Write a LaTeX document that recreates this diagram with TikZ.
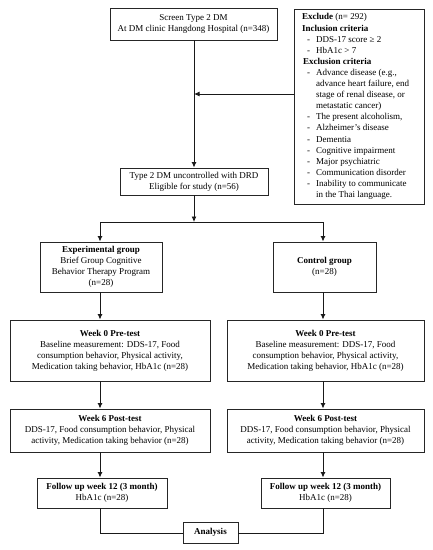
\documentclass[tikz,border=0pt]{standalone}
\usepackage{fontspec}
\setmainfont{Liberation Serif}
\usetikzlibrary{arrows.meta}
\begin{document}
\begin{tikzpicture}[x=1pt,y=-1pt,
  box/.style={draw=black!85,line width=0.9pt,inner sep=0pt,align=center,font=\fontsize{9}{10.9}\selectfont},
  arr/.style={line width=0.9pt,draw=black!90,-{Latex[length=5.5pt,width=5pt]}},
  ln/.style={line width=0.9pt,draw=black!90}]
\useasboundingbox (0,0) rectangle (433,550);
\node[box,minimum width=167pt,minimum height=32pt] (screen) at (193.5,24) {Screen Type 2 DM\\At DM clinic Hangdong Hospital (n=348)};
\node[box,minimum width=130pt,minimum height=195pt,align=left,anchor=north west] (excl) at (294,9) {};
\node[anchor=north west,inner sep=0pt,align=left,font=\fontsize{9}{11.1}\selectfont] (excltext) at (302,13.5) {%
\textbf{Exclude} (n= 292)\\
\textbf{Inclusion criteria}\\
\hspace*{5pt}-\hspace{6pt}DDS-17 score ≥ 2\\
\hspace*{5pt}-\hspace{6pt}HbA1c > 7\\
\hspace*{1pt}\textbf{Exclusion criteria}\\
\hspace*{5pt}-\hspace{6pt}Advance disease (e.g.,\\
\hspace*{14pt}advance heart failure, end\\
\hspace*{14pt}stage of renal disease, or\\
\hspace*{14pt}metastatic cancer)\\
\hspace*{5pt}-\hspace{6pt}The present alcoholism,\\
\hspace*{5pt}-\hspace{6pt}Alzheimer's disease\\
\hspace*{5pt}-\hspace{6pt}Dementia\\
\hspace*{5pt}-\hspace{6pt}Cognitive impairment\\
\hspace*{5pt}-\hspace{6pt}Major psychiatric\\
\hspace*{5pt}-\hspace{6pt}Communication disorder\\
\hspace*{5pt}-\hspace{6pt}Inability to communicate\\
\hspace*{14pt}in the Thai language.};
\node[box,minimum width=148pt,minimum height=27pt] (elig) at (194,181.5) {Type 2 DM uncontrolled with DRD\\Eligible for study (n=56)};
\node[box,minimum width=122pt,minimum height=50pt] (exp) at (101,267) {\textbf{Experimental group}\\Brief Group Cognitive\\Behavior Therapy Program\\(n=28)};
\node[box,minimum width=103pt,minimum height=50pt] (ctrl) at (324.5,267) {\textbf{Control group}\\(n=28)};
\node[box,minimum width=200pt,minimum height=61pt] (w0l) at (110,350.5) {\textbf{Week 0 Pre-test}\\Baseline measurement: DDS-17, Food\\consumption behavior, Physical activity,\\Medication taking behavior, HbA1c (n=28)};
\node[box,minimum width=197pt,minimum height=61pt] (w0r) at (325.5,350.5) {\textbf{Week 0 Pre-test}\\Baseline measurement: DDS-17, Food\\consumption behavior, Physical activity,\\Medication taking behavior, HbA1c (n=28)};
\node[box,minimum width=200pt,minimum height=43pt] (w6l) at (110,430.5) {\textbf{Week 6 Post-test}\\DDS-17, Food consumption behavior, Physical\\activity, Medication taking behavior (n=28)};
\node[box,minimum width=197pt,minimum height=43pt] (w6r) at (325.5,430.5) {\textbf{Week 6 Post-test}\\DDS-17, Food consumption behavior, Physical\\activity, Medication taking behavior (n=28)};
\node[box,minimum width=130pt,minimum height=30pt] (ful) at (102,493) {\textbf{Follow up week 12 (3 month)}\\HbA1c (n=28)};
\node[box,minimum width=129pt,minimum height=30pt] (fur) at (325.5,493) {\textbf{Follow up week 12 (3 month)}\\HbA1c (n=28)};
\node[box,minimum width=55pt,minimum height=21pt] (ana) at (210.5,532.5) {\textbf{Analysis}};
\coordinate (mid) at (194,94);
\coordinate (split) at (194,222);
\coordinate (sl) at (100,222);
\coordinate (sr) at (323,222);
\coordinate (bl) at (100,533);
\coordinate (br) at (323,533);
% connectors
\draw[arr] (screen.south -| mid) -- (elig.north -| mid);
\draw[arr] (excl.west |- mid) -- (mid);
\draw[arr] (elig.south -| split) -- (split);
\draw[ln] (sl) -- (sr);
\draw[arr] (sl) -- (exp.north -| sl);
\draw[arr] (sr) -- (ctrl.north -| sr);
\draw[arr] (exp.south -| sl) -- (w0l.north -| sl);
\draw[arr] (ctrl.south -| sr) -- (w0r.north -| sr);
\draw[arr] (w0l.south -| sl) -- (w6l.north -| sl);
\draw[arr] (w0r.south -| sr) -- (w6r.north -| sr);
\draw[arr] (w6l.south -| sl) -- (ful.north -| sl);
\draw[arr] (w6r.south -| sr) -- (fur.north -| sr);
\draw[ln] (ful.south -| bl) -- (bl) -- (ana.west |- bl);
\draw[ln] (fur.south -| br) -- (br) -- (ana.east |- br);
\end{tikzpicture}
\end{document}
